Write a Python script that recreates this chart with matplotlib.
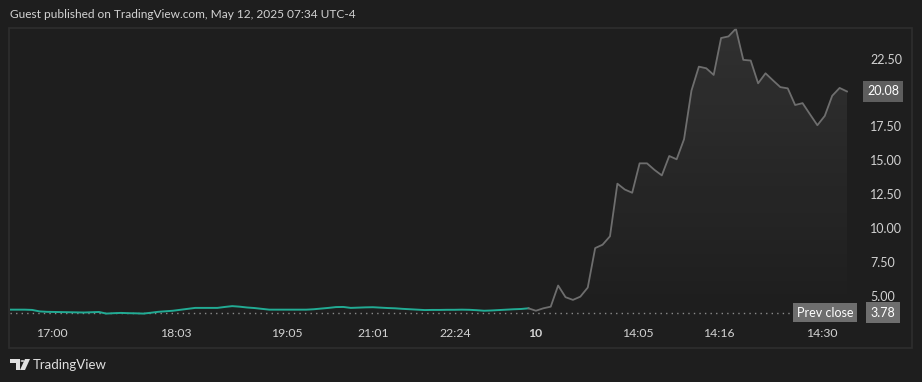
import numpy as np
import matplotlib.pyplot as plt
from matplotlib.patches import Rectangle, Polygon, Circle

plt.rcParams['font.family'] = ['Lato', 'DejaVu Sans']

# prices, one per bar (extended hours in green, regular session in gray)
ext_prices = [3.99, 3.99, 3.99, 3.97, 3.86, 3.83, 3.82, 3.81, 3.80, 3.79,
              3.78, 3.80, 3.82, 3.70, 3.73, 3.75, 3.73, 3.72, 3.70, 3.76,
              3.83, 3.87, 3.91, 3.98, 4.05, 4.12, 4.12, 4.12, 4.12, 4.19,
              4.25, 4.21, 4.15, 4.11, 4.05, 3.99, 3.99, 3.99, 3.99, 3.99,
              3.99, 4.02, 4.07, 4.12, 4.18, 4.19, 4.12, 4.14, 4.16, 4.17,
              4.14, 4.11, 4.09, 4.05, 4.02, 3.99, 3.96, 3.97, 3.97, 3.98,
              3.98, 3.99, 3.98, 3.95, 3.91, 3.93, 3.96, 3.99, 4.02, 4.04,
              4.09]
reg_prices = [3.91, 3.91, 4.09, 4.21, 5.77, 4.91, 4.71, 4.95, 5.62, 8.53,
              8.78, 9.40, 13.28, 12.85, 12.61, 14.78, 14.78, 14.30, 13.89, 15.32,
              15.08, 16.56, 20.14, 21.91, 21.79, 21.30, 24.02, 24.14, 24.71, 22.41,
              22.36, 20.68, 21.42, 20.90, 20.40, 20.31, 19.08, 19.22, 18.40, 17.59,
              18.28, 19.76, 20.34, 20.08]
prev_close = 3.78
last_price = 20.08

time_labels = ['17:00', '18:03', '19:05', '21:01', '22:24', '10', '14:05', '14:16', '14:30']
time_ticks = [5.7, 22.4, 37.4, 49.0, 60.1, 70.9, 84.8, 95.7, 109.6]
price_ticks = [5.0, 7.5, 10.0, 12.5, 15.0, 17.5, 22.5]

BG = '#1e1e1e'
TXT = '#d2d2d2'

x_ext = np.arange(len(ext_prices))
reg_full = [ext_prices[-1]] + reg_prices[1:]
x_reg_full = np.arange(len(ext_prices) - 1, len(ext_prices) - 1 + len(reg_full))
n_bars = len(ext_prices) + len(reg_full) - 1

fig = plt.figure(figsize=(9.22, 3.82), dpi=100, facecolor=BG)
W, H = 922.0, 382.0

# outer frame of the chart
fig.patches.append(Rectangle((9 / W, 1 - 348 / H), 903 / W, 320 / H, transform=fig.transFigure,
                             fill=False, edgecolor='#2e2e2e', linewidth=1.2))

ax = fig.add_axes([10 / W, 1 - 322 / H, 838 / W, 294 / H])
ax.set_facecolor(BG)
for s in ax.spines.values():
    s.set_visible(False)

ymin, ymax = 3.08, 24.76
xmax = (n_bars - 1) * 838 / 837

# gradient fill under the regular session line
poly_x = np.concatenate([x_reg_full, [x_reg_full[-1], x_reg_full[0]]])
poly_y = np.concatenate([reg_full, [ymin, ymin]])
grad = np.linspace(0.085, 0.0, 256)
rgba = np.zeros((256, 1, 4))
rgba[..., :3] = 1.0
rgba[:, 0, 3] = grad
im = ax.imshow(rgba, extent=[x_reg_full[0], x_reg_full[-1], ymin, max(reg_full)],
               aspect='auto', origin='upper', zorder=1)
clip = Polygon(np.column_stack([poly_x, poly_y]), closed=True, transform=ax.transData)
im.set_clip_path(clip)
ax.set_xlim(0, xmax)
ax.set_ylim(ymin, ymax)

ax.hlines(prev_close, 0, xmax * 783 / 838, colors='#8a8a8a', linestyles=(0, (1, 3)), linewidth=1, zorder=2)
ax.plot(x_ext, ext_prices, color='#22ab94', linewidth=1.4, zorder=3, solid_joinstyle='round')
ax.plot(x_reg_full, reg_full, color='#6e6e6e', linewidth=1.3, zorder=3, solid_joinstyle='round')

ax.set_xticks(time_ticks)
ax.set_xticklabels(time_labels)
for lab in ax.get_xticklabels():
    if lab.get_text() == '10':
        lab.set_fontweight('bold')
ax.set_yticks(price_ticks)
ax.set_yticklabels(['%.2f' % v for v in price_ticks])
ax.yaxis.tick_right()
ax.tick_params(axis='x', length=0, pad=4, colors=TXT, labelsize=8.8)
ax.tick_params(axis='y', length=0, pad=16, colors=TXT, labelsize=9)

# price labels on the scale
ax.text(1.0418, last_price, '%.2f' % last_price, transform=ax.get_yaxis_transform(),
        ha='center', va='center', color='white', fontsize=9, clip_on=False,
        bbox=dict(boxstyle='square,pad=0.35', facecolor='#5e5e5e', edgecolor='none'))
ax.text(1.0418, prev_close, '%.2f' % prev_close, transform=ax.get_yaxis_transform(),
        ha='center', va='center', color='white', fontsize=9, clip_on=False,
        bbox=dict(boxstyle='square,pad=0.35', facecolor='#6e6e6e', edgecolor='none'))
ax.text(0.9731, prev_close, 'Prev close', transform=ax.get_yaxis_transform(),
        ha='center', va='center', color='white', fontsize=9, clip_on=False,
        bbox=dict(boxstyle='square,pad=0.3', facecolor='#6e6e6e', edgecolor='none'))

fig.text(10 / W, 1 - 14 / H, 'Guest published on TradingView.com, May 12, 2025 07:34 UTC-4',
         color=TXT, fontsize=8.6, ha='left', va='center')

# TradingView logo
fig.patches.append(Polygon([(10 / W, 1 - 359 / H), (20 / W, 1 - 359 / H), (20 / W, 1 - 370 / H),
                            (16 / W, 1 - 370 / H), (16 / W, 1 - 363 / H), (10 / W, 1 - 363 / H)],
                           closed=True, transform=fig.transFigure, facecolor='#e0e0e0', edgecolor='none'))
fig.patches.append(Circle((22.5 / W, 1 - 361 / H), 2 / W, transform=fig.transFigure,
                          facecolor='#e0e0e0', edgecolor='none'))
fig.patches.append(Polygon([(25 / W, 1 - 359 / H), (30 / W, 1 - 359 / H), (25 / W, 1 - 370 / H),
                            (20 / W, 1 - 370 / H)],
                           closed=True, transform=fig.transFigure, facecolor='#e0e0e0', edgecolor='none'))
fig.text(33 / W, 1 - 365 / H, 'TradingView', color='#e0e0e0', fontsize=9.5, ha='left', va='center')

fig.savefig('out.png', dpi=100, facecolor=BG)
